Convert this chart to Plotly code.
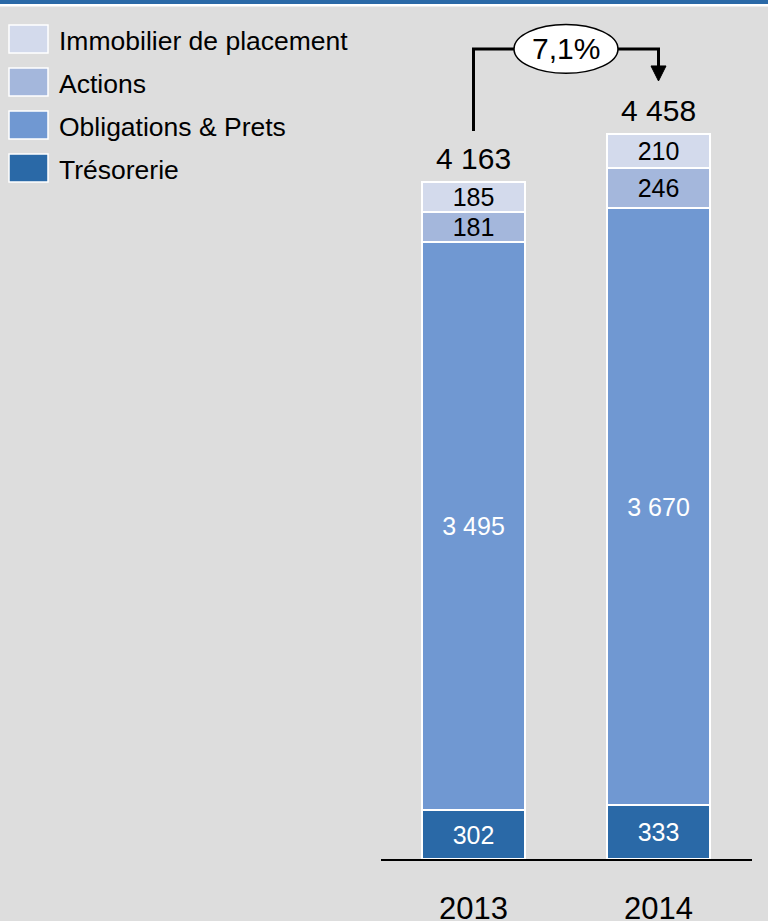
"""Répartition des placements 2013-2014 (barres empilées)."""

import plotly.graph_objects as go

# Données
years = ["2013", "2014"]
series_names = ["Trésorerie", "Obligations & Prets", "Actions", "Immobilier de placement"]
tresorerie = [302, 333]
obligations = [3495, 3670]
actions = [181, 246]
immobilier = [185, 210]
totals = [4163, 4458]
growth_label = "7,1%"

colors = {
    "Trésorerie": "#2a69a7",
    "Obligations & Prets": "#7098d2",
    "Actions": "#a4b7dc",
    "Immobilier de placement": "#d3daec",
}
text_colors = {
    "Trésorerie": "white",
    "Obligations & Prets": "white",
    "Actions": "black",
    "Immobilier de placement": "black",
}
FONT = "Arial, Liberation Sans, sans-serif"
BG = "#dddddd"

W, H = 768, 921
ML, MR, MT, MB = 381, 16, 0, 62
PLOT_W = W - ML - MR
PLOT_H = H - MT - MB
PX_PER_UNIT = 0.1626  # échelle verticale


def px(x):
    """Pixel horizontal -> coordonnée paper."""
    return (x - ML) / PLOT_W


def py(y):
    """Pixel vertical -> coordonnée paper."""
    return (H - MB - y) / PLOT_H


fig = go.Figure()
values = [tresorerie, obligations, actions, immobilier]
for name, vals in zip(series_names, values):
    fig.add_trace(
        go.Bar(
            x=years,
            y=vals,
            name=name,
            width=0.56,
            marker={"color": colors[name], "line": {"color": "white", "width": 2}},
            texttemplate="%{y:,.0f}",
            textposition="inside",
            insidetextanchor="middle",
            constraintext="none",
            textfont={"family": FONT, "size": 25, "color": text_colors[name]},
            showlegend=False,
        )
    )

shapes = []
annotations = []

# Bandeau bleu en haut
shapes.append(dict(type="rect", xref="paper", yref="paper", x0=px(0), x1=px(W),
                   y0=py(4), y1=py(0), fillcolor="#2a69a7", line={"width": 0}, layer="above"))
shapes.append(dict(type="rect", xref="paper", yref="paper", x0=px(0), x1=px(W),
                   y0=py(6.5), y1=py(4), fillcolor="white", line={"width": 0}, layer="above"))

# Légende manuelle (ordre inverse des séries)
for i, name in enumerate(reversed(series_names)):
    top = 25 + i * 43
    shapes.append(dict(type="rect", xref="paper", yref="paper", x0=px(9), x1=px(48),
                       y0=py(top + 28), y1=py(top), fillcolor=colors[name],
                       line={"color": "white", "width": 1.5}))
    annotations.append(dict(xref="paper", yref="paper", x=px(57), y=py(top + 16),
                            text=name, showarrow=False, xanchor="left", yanchor="middle",
                            font={"family": FONT, "size": 26.5, "color": "black"}))

# Totaux au-dessus des barres (x = index de catégorie)
for i, tot in enumerate(totals):
    annotations.append(dict(x=i, y=tot, text=f"{tot:,}".replace(",", " "), showarrow=False,
                            yanchor="middle", yshift=24,
                            font={"family": FONT, "size": 30, "color": "black"}))

# Flèche d'évolution
start_y = totals[0] + 314
bracket_y = max(totals) + 524
tip_y = totals[1] + 327
ell_rx, ell_ry = 0.281, 150
line_style = {"color": "black", "width": 3}
shapes.append(dict(type="path", xref="x", yref="y",
                   path=f"M 0,{start_y} L 0,{bracket_y} L {0.5 - ell_rx},{bracket_y}",
                   line=line_style))
shapes.append(dict(type="path", xref="x", yref="y",
                   path=f"M {0.5 + ell_rx},{bracket_y} L 1,{bracket_y} L 1,{tip_y + 80}",
                   line=line_style))
head_h = 15 / PX_PER_UNIT
head_w = 7.5 / 185
shapes.append(dict(type="path", xref="x", yref="y",
                   path=f"M {1 - head_w},{tip_y + head_h} L {1 + head_w},{tip_y + head_h} L 1,{tip_y} Z",
                   fillcolor="black", line={"color": "black", "width": 1}))
shapes.append(dict(type="circle", xref="x", yref="y", x0=0.5 - ell_rx, x1=0.5 + ell_rx,
                   y0=bracket_y - ell_ry, y1=bracket_y + ell_ry, fillcolor="white",
                   line={"color": "black", "width": 1.5}))
annotations.append(dict(x=0.5, y=bracket_y, text=growth_label, showarrow=False,
                        font={"family": FONT, "size": 30, "color": "black"}))

fig.update_layout(
    width=W,
    height=H,
    barmode="stack",
    bargap=0,
    separators=", ",
    paper_bgcolor=BG,
    plot_bgcolor=BG,
    margin={"l": ML, "r": MR, "t": MT, "b": MB},
    shapes=shapes,
    annotations=annotations,
    showlegend=False,
    font={"family": FONT, "color": "black"},
)
fig.update_xaxes(
    type="category",
    range=[-0.5, -0.5 + PLOT_W / 185],
    automargin=False,
    showline=True,
    linecolor="black",
    linewidth=1.5,
    showgrid=False,
    ticks="outside",
    ticklen=21,
    tickcolor="rgba(0,0,0,0)",
    tickfont={"family": FONT, "size": 31, "color": "black"},
    fixedrange=True,
)
fig.update_yaxes(visible=False, automargin=False, range=[0, PLOT_H / PX_PER_UNIT], fixedrange=True)

# La page a une marge par défaut de 8 px : on la supprime.
fig.write_html(
    "out.html",
    config={"displayModeBar": False},
    post_script="document.body.style.margin='0';document.body.style.overflow='hidden';",
)
